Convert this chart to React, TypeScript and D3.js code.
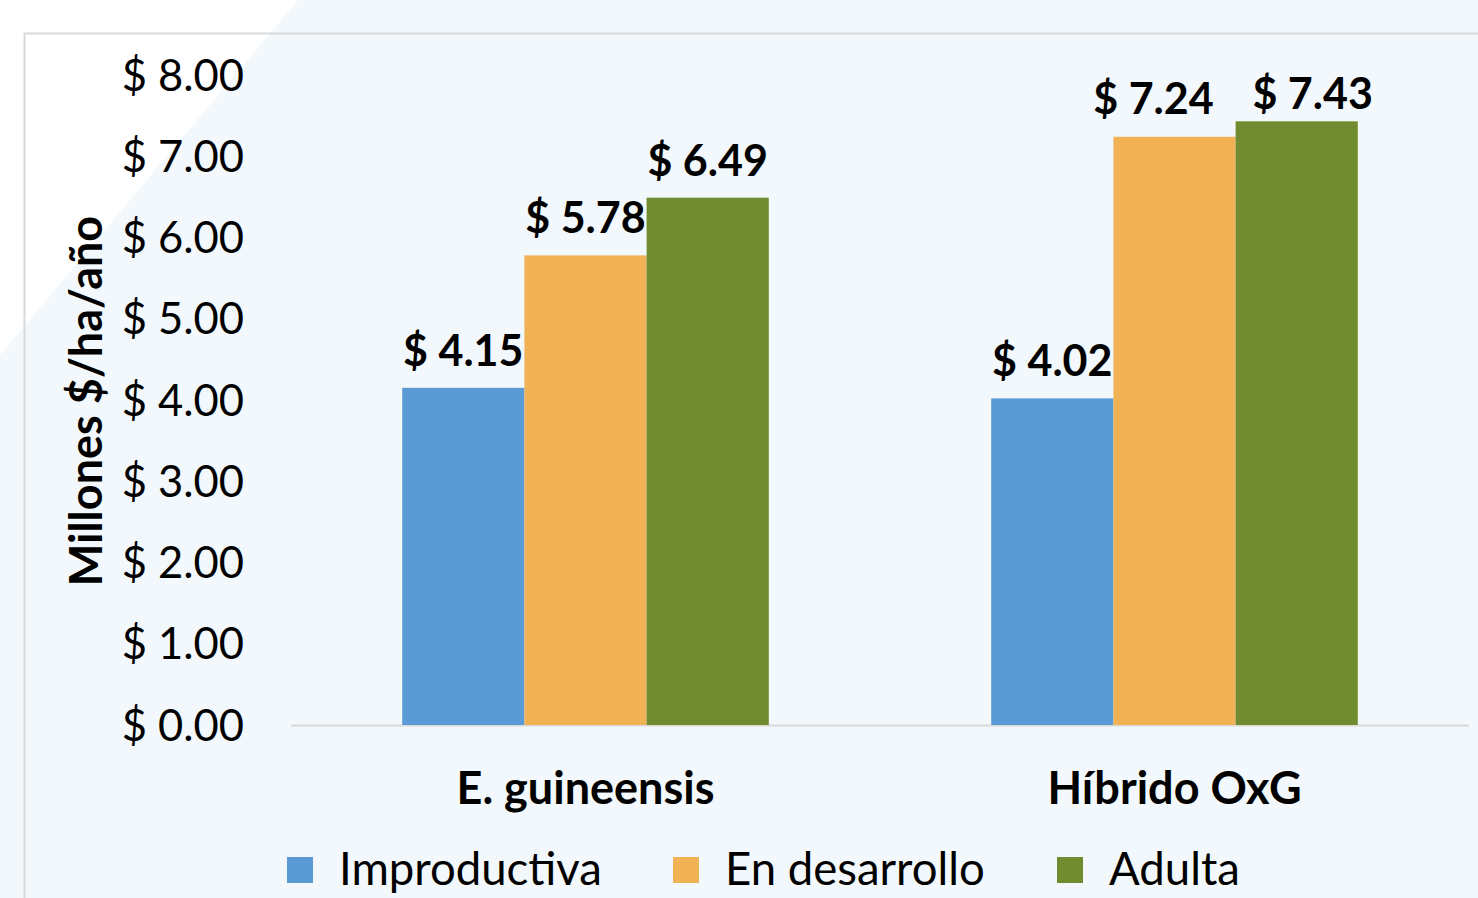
import React, { useEffect, useRef } from "react";
import * as d3 from "d3";

const categories = ["E. guineensis", "Híbrido OxG"];
const seriesNames = ["Improductiva", "En desarrollo", "Adulta"];
const improductiva = [4.15, 4.02];
const enDesarrollo = [5.78, 7.24];
const adulta = [6.49, 7.43];
const yTicks = [0, 1, 2, 3, 4, 5, 6, 7, 8];
const colors = ["#5B9BD5", "#F1B256", "#718B30"];

const W = 1478;
const H = 898;
const FONT = "Lato, 'Noto Sans', sans-serif";

// label nudges (Excel moved the two tall labels apart) [category][series] -> [dx, dy]
const labelNudge = [
  [[0, 0], [0, 0], [0, 0]],
  [[0, 0], [-21, -1], [16, 10]],
];

export default function App() {
  const ref = useRef<SVGSVGElement>(null);

  useEffect(() => {
    const svg = d3.select(ref.current);
    svg.selectAll("*").remove();

    // slide background
    svg.append("rect").attr("width", W).attr("height", H).style("fill", "#F2F8FB");
    svg.append("path").attr("d", "M0,0 L298,0 L0,355 Z").style("fill", "#FFFFFF");

    // chart frame
    svg.append("rect")
      .attr("x", 24.5).attr("y", 33.5)
      .attr("width", W).attr("height", H)
      .style("fill", "none")
      .style("stroke", "#D9D9D9")
      .style("stroke-width", 2);

    const x0 = d3.scaleBand().domain(categories).range([291, 1469]);
    const x1 = d3.scaleBand().domain(seriesNames).range([0, x0.bandwidth()]).paddingOuter(0.91);
    const y = d3.scaleLinear().domain([0, 8]).range([725, 75]);

    // y tick labels
    svg.selectAll("text.ytick")
      .data(yTicks)
      .enter()
      .append("text")
      .attr("x", 244)
      .attr("y", d => y(d))
      .attr("dy", "0.36em")
      .attr("text-anchor", "end")
      .style("font-family", FONT)
      .style("font-size", "43.5px")
      .style("fill", "#000")
      .text(d => "$ " + d3.format(".2f")(d));

    // y axis title
    svg.append("text")
      .attr("transform", "translate(102,401) rotate(-90)")
      .attr("text-anchor", "middle")
      .style("font-family", FONT)
      .style("font-weight", "bold")
      .style("font-size", "45px")
      .style("fill", "#000")
      .text("Millones $/ha/año");

    // baseline
    svg.append("line")
      .attr("x1", 291).attr("x2", 1469)
      .attr("y1", y(0) + 0.5).attr("y2", y(0) + 0.5)
      .style("stroke", "#D9D9D9")
      .style("stroke-width", 2);

    const rows = categories.map((c, i) => ({
      cat: c,
      i,
      values: [improductiva[i], enDesarrollo[i], adulta[i]],
    }));

    const groups = svg.selectAll("g.grp")
      .data(rows)
      .enter()
      .append("g")
      .attr("transform", d => `translate(${x0(d.cat)},0)`);

    groups.selectAll("rect")
      .data(d => d.values.map((v, j) => ({ v, s: seriesNames[j], j, i: d.i })))
      .enter()
      .append("rect")
      .attr("x", d => x1(d.s)!)
      .attr("y", d => y(d.v))
      .attr("width", x1.bandwidth())
      .attr("height", d => y(0) - y(d.v))
      .style("fill", d => colors[d.j]);

    groups.selectAll("text.lbl")
      .data(d => d.values.map((v, j) => ({ v, s: seriesNames[j], j, i: d.i })))
      .enter()
      .append("text")
      .attr("x", d => x1(d.s)! + x1.bandwidth() / 2 + labelNudge[d.i][d.j][0])
      .attr("y", d => y(d.v) - 22 + labelNudge[d.i][d.j][1])
      .attr("text-anchor", "middle")
      .style("font-family", FONT)
      .style("font-weight", "bold")
      .style("font-size", "43px")
      .style("fill", "#000")
      .text(d => "$ " + d3.format(".2f")(d.v));

    // category labels
    svg.selectAll("text.cat")
      .data(categories)
      .enter()
      .append("text")
      .attr("x", d => x0(d)! + x0.bandwidth() / 2)
      .attr("y", 804)
      .attr("text-anchor", "middle")
      .style("font-family", FONT)
      .style("font-weight", "bold")
      .style("font-size", "45px")
      .style("fill", "#000")
      .text(d => d);

    // legend
    const legendX = [287, 673, 1057];
    const leg = svg.selectAll("g.leg")
      .data(seriesNames)
      .enter()
      .append("g")
      .attr("transform", (d, i) => `translate(${legendX[i]},857)`);
    leg.append("rect")
      .attr("width", 26).attr("height", 26)
      .style("fill", (d, i) => colors[i]);
    leg.append("text")
      .attr("x", 52)
      .attr("y", 28)
      .style("font-family", FONT)
      .style("font-size", "45.5px")
      .style("fill", "#000")
      .text(d => d);
  }, []);

  return (
    <svg ref={ref} width={W} height={H}
      style={{ position: "absolute", left: 0, top: 0, display: "block" }} />
  );
}
